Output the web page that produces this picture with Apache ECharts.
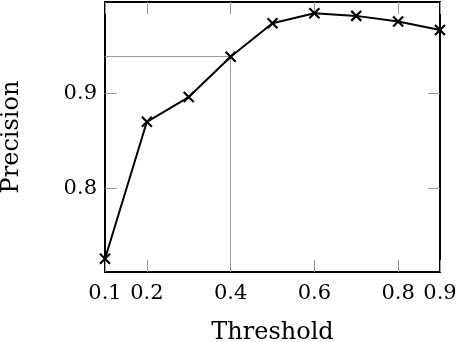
<!DOCTYPE html>
<html>
<head>
<meta charset="utf-8">
<script src="https://cdn.jsdelivr.net/npm/echarts@6/dist/echarts.min.js"></script>
<style>
  html, body { margin: 0; padding: 0; background: #fff; }
  #chart { width: 456px; height: 342px; }
</style>
</head>
<body>
<div id="chart"></div>
<script>
// data
var thresholds = [0.1, 0.2, 0.3, 0.4, 0.5, 0.6, 0.7, 0.8, 0.9];
var precision = [0.726, 0.870, 0.896, 0.9385, 0.9737, 0.9842, 0.9814, 0.9754, 0.9666];
var xTicks = [0.1, 0.2, 0.4, 0.6, 0.8, 0.9];
var yTicks = [0.8, 0.9];
var xRange = [0.1, 0.9];
var yRange = [0.712, 0.996];
var pick = 3; // the highlighted point (0.4)

var chart = echarts.init(document.getElementById('chart'));
var font = '"DejaVu Serif", "Liberation Serif", serif';

var pts = [];
for (var i = 0; i < thresholds.length; i++) {
    pts.push([thresholds[i], precision[i]]);
}

function boxAxis(extra) {
    var ax = {
        type: 'value',
        axisLine: { show: true, onZero: false, lineStyle: { color: '#000', width: 2 } },
        axisTick: { show: true, inside: true, length: 12, lineStyle: { color: '#999', width: 1 } },
        axisLabel: { show: false },
        splitLine: { show: false }
    };
    for (var k in extra) ax[k] = extra[k];
    return ax;
}

var option = {
    animation: false,
    grid: { left: 105, right: 16, top: 2, bottom: 70, containLabel: false, outerBoundsMode: 'none' },
    xAxis: [
        boxAxis({
            position: 'bottom',
            min: xRange[0], max: xRange[1],
            name: 'Threshold',
            nameLocation: 'middle',
            nameGap: 49,
            nameTextStyle: { fontFamily: font, fontSize: 24, color: '#000' },
            axisTick: { show: true, inside: true, length: 12, customValues: xTicks, lineStyle: { color: '#999', width: 1 } },
            axisLabel: { show: true, customValues: xTicks, margin: 11, fontFamily: font, fontSize: 21, color: '#000' }
        }),
        boxAxis({
            position: 'top',
            min: xRange[0], max: xRange[1],
            axisTick: { show: true, inside: true, length: 12, customValues: xTicks, lineStyle: { color: '#999', width: 1 } }
        })
    ],
    yAxis: [
        boxAxis({
            position: 'left',
            min: yRange[0], max: yRange[1],
            name: 'Precision',
            nameLocation: 'middle',
            nameGap: 81,
            nameTextStyle: { fontFamily: font, fontSize: 24, color: '#000' },
            axisTick: { show: true, inside: true, length: 12, customValues: yTicks, lineStyle: { color: '#999', width: 1 } },
            axisLabel: { show: true, customValues: yTicks, margin: 8, fontFamily: font, fontSize: 21, color: '#000' }
        }),
        boxAxis({
            position: 'right',
            min: yRange[0], max: yRange[1],
            axisTick: { show: true, inside: true, length: 12, customValues: yTicks, lineStyle: { color: '#999', width: 1 } }
        })
    ],
    series: [{
        type: 'line',
        data: pts,
        symbol: 'path://M0,0L10,10M10,0L0,10',
        symbolSize: 10,
        showSymbol: true,
        lineStyle: { color: '#000', width: 2 },
        itemStyle: { color: '#000', borderColor: '#000', borderWidth: 2.2 },
        markLine: {
            silent: true,
            symbol: 'none',
            label: { show: false },
            lineStyle: { color: '#999', width: 1, type: 'solid' },
            data: [
                [{ coord: [thresholds[pick], yRange[0]] }, { coord: [thresholds[pick], precision[pick]] }],
                [{ coord: [xRange[0], precision[pick]] }, { coord: [thresholds[pick], precision[pick]] }]
            ]
        },
        z: 5
    }]
};

chart.setOption(option);
</script>
</body>
</html>
